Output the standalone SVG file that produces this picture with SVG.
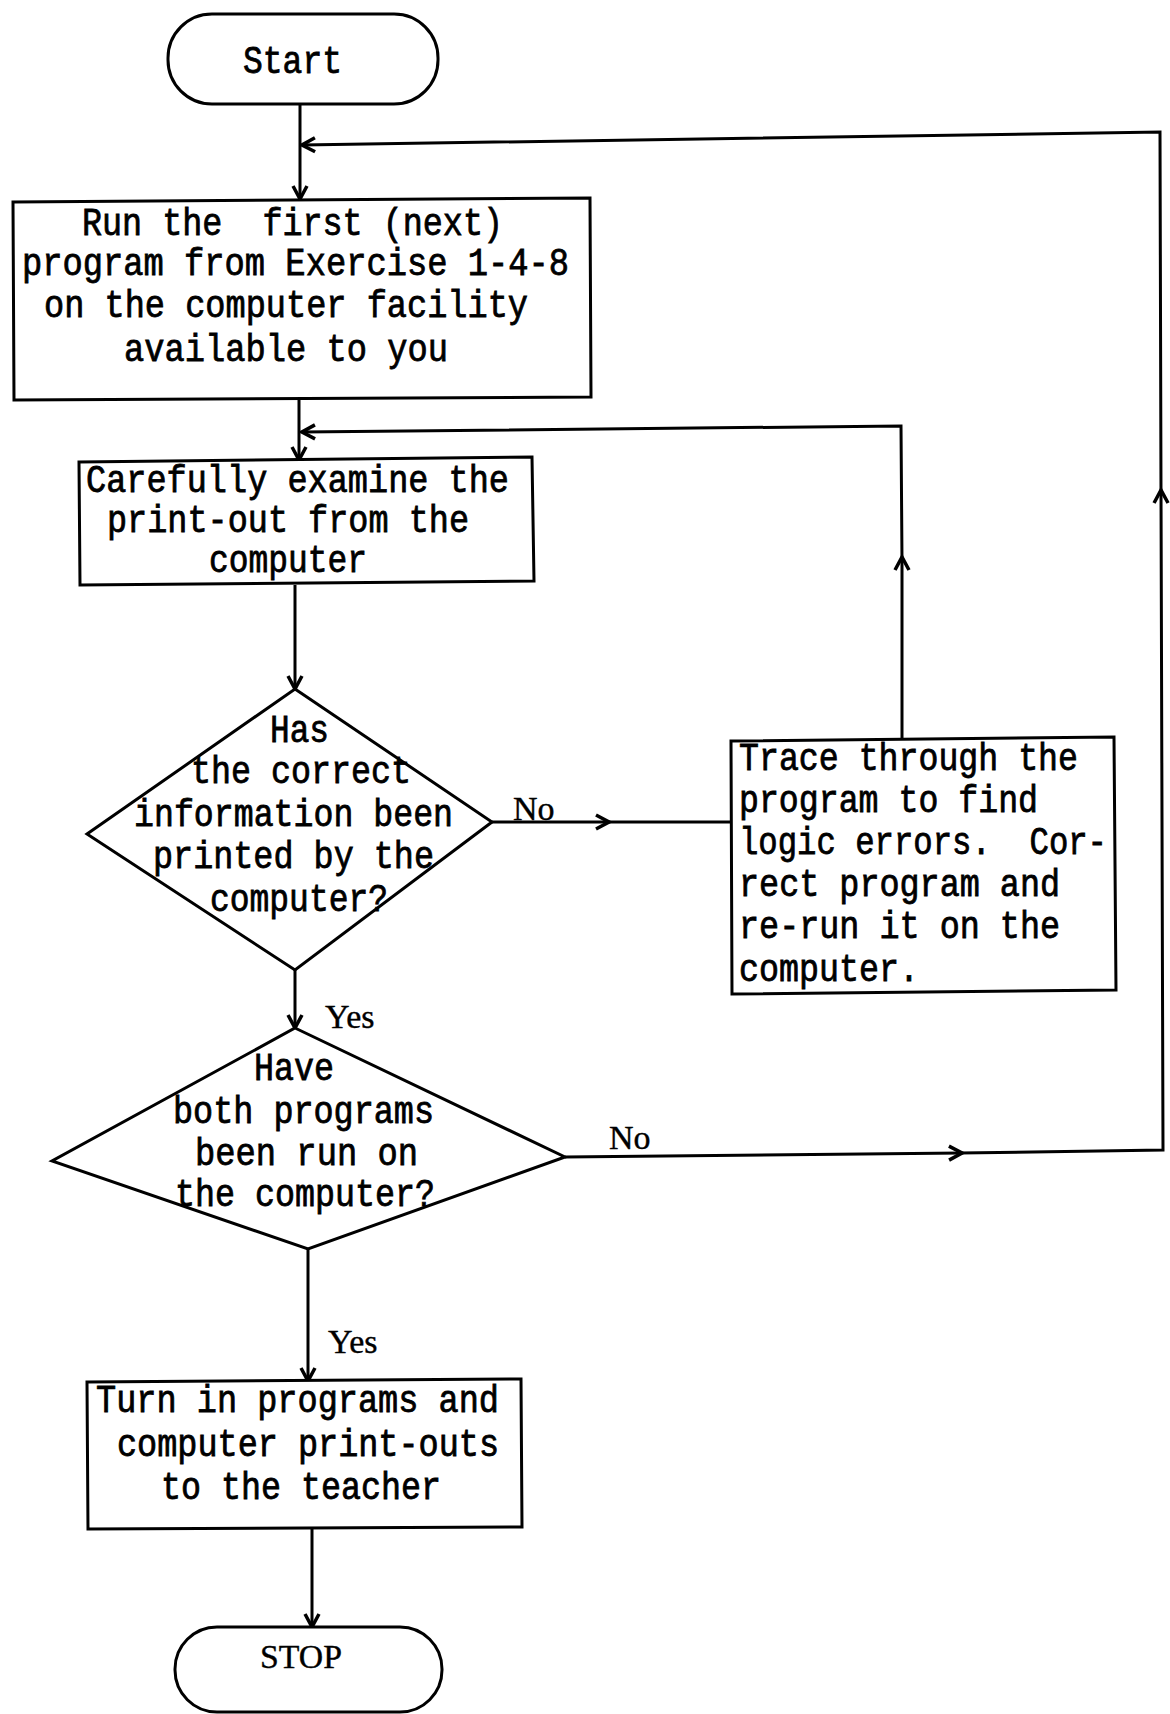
<svg xmlns="http://www.w3.org/2000/svg" width="1170" height="1714" viewBox="0 0 1170 1714">
  <style>
    .shape { fill: #fff; stroke: #000; stroke-width: 3; stroke-linejoin: miter; }
    .wire { fill: none; stroke: #000; stroke-width: 3; }
    .t { font-family: "Liberation Mono", "Courier New", monospace; font-size: 38px; fill: #000; stroke: #000; stroke-width: 0.8; white-space: pre; }
    .lbl { font-family: "Liberation Serif", "Times New Roman", serif; font-size: 34px; fill: #000; stroke: #000; stroke-width: 0.4; }
  </style>
  <defs>
    <marker id="arr" viewBox="-16 -10 18 20" refX="0" refY="0" markerWidth="18" markerHeight="20" markerUnits="userSpaceOnUse" orient="auto">
      <path d="M-13,-7 L0,0 L-13,7" fill="none" stroke="#000" stroke-width="3.5" stroke-linejoin="miter"/>
    </marker>
  </defs>

  <rect width="1170" height="1714" fill="#fff"/>

  <!-- connectors -->
  <g id="connectors">
    <path class="wire" d="M300,104 L300,199" marker-end="url(#arr)"/>
    <path class="wire" d="M299,400 L299,460" marker-end="url(#arr)"/>
    <path class="wire" d="M295,585 L295,689" marker-end="url(#arr)"/>
    <path class="wire" d="M492,822 L609,822" marker-end="url(#arr)"/>
    <path class="wire" d="M607,822 L731,822"/>
    <path class="wire" d="M295,970 L295,1028" marker-end="url(#arr)"/>
    <path class="wire" d="M308,1249 L308,1381" marker-end="url(#arr)"/>
    <path class="wire" d="M312,1528 L312,1627" marker-end="url(#arr)"/>
    <!-- correction loop back to the examine step -->
    <path class="wire" d="M902,740 L902,557" marker-end="url(#arr)"/>
    <path class="wire" d="M902,560 L901,426 L302,432" marker-end="url(#arr)"/>
    <!-- next-program loop back to the run step -->
    <path class="wire" d="M565,1157 L962,1153" marker-end="url(#arr)"/>
    <path class="wire" d="M960,1153 L1163,1150 L1161,490" marker-end="url(#arr)"/>
    <path class="wire" d="M1161,493 L1160,132 L302,145" marker-end="url(#arr)"/>
  </g>

  <g id="start">
    <rect class="shape" x="168" y="14" width="270" height="90" rx="44" ry="44"/>
    <text class="t" x="243" y="73" textLength="99" lengthAdjust="spacingAndGlyphs">Start</text>
  </g>

  <g id="run-program">
    <path class="shape" d="M13,202 L590,198 L591,397 L14,400 Z"/>
    <text class="t" x="82" y="235" textLength="421" lengthAdjust="spacingAndGlyphs">Run the  first (next)</text>
    <text class="t" x="22" y="275" textLength="547" lengthAdjust="spacingAndGlyphs">program from Exercise 1-4-8</text>
    <text class="t" x="44" y="317" textLength="484" lengthAdjust="spacingAndGlyphs">on the computer facility</text>
    <text class="t" x="124" y="361" textLength="324" lengthAdjust="spacingAndGlyphs">available to you</text>
  </g>

  <g id="examine">
    <path class="shape" d="M79,462 L532,457 L534,581 L80,585 Z"/>
    <text class="t" x="86" y="492" textLength="423" lengthAdjust="spacingAndGlyphs">Carefully examine the</text>
    <text class="t" x="107" y="532" textLength="362" lengthAdjust="spacingAndGlyphs">print-out from the</text>
    <text class="t" x="209" y="572" textLength="158" lengthAdjust="spacingAndGlyphs">computer</text>
  </g>

  <g id="correct-info">
    <path class="shape" d="M295,689 L492,822 L295,970 L87,834 Z"/>
    <text class="t" x="270" y="742" textLength="59" lengthAdjust="spacingAndGlyphs">Has</text>
    <text class="t" x="191" y="783" textLength="220" lengthAdjust="spacingAndGlyphs">the correct</text>
    <text class="t" x="134" y="826" textLength="319" lengthAdjust="spacingAndGlyphs">information been</text>
    <text class="t" x="153" y="868" textLength="281" lengthAdjust="spacingAndGlyphs">printed by the</text>
    <text class="t" x="210" y="911" textLength="178" lengthAdjust="spacingAndGlyphs">computer?</text>
  </g>

  <g id="trace">
    <path class="shape" d="M731,741 L1114,737 L1116,990 L732,994 Z"/>
    <text class="t" x="739" y="770" textLength="339" lengthAdjust="spacingAndGlyphs">Trace through the</text>
    <text class="t" x="739" y="812" textLength="299" lengthAdjust="spacingAndGlyphs">program to find</text>
    <text class="t" x="739" y="854" textLength="368" lengthAdjust="spacingAndGlyphs">logic errors.  Cor-</text>
    <text class="t" x="739" y="896" textLength="321" lengthAdjust="spacingAndGlyphs">rect program and</text>
    <text class="t" x="739" y="938" textLength="321" lengthAdjust="spacingAndGlyphs">re-run it on the</text>
    <text class="t" x="739" y="981" textLength="180" lengthAdjust="spacingAndGlyphs">computer.</text>
  </g>

  <g id="both-run">
    <path class="shape" d="M295,1028 L565,1157 L308,1249 L52,1161 Z"/>
    <text class="t" x="254" y="1080" textLength="80" lengthAdjust="spacingAndGlyphs">Have</text>
    <text class="t" x="173" y="1123" textLength="261" lengthAdjust="spacingAndGlyphs">both programs</text>
    <text class="t" x="195" y="1165" textLength="223" lengthAdjust="spacingAndGlyphs">been run on</text>
    <text class="t" x="175" y="1206" textLength="260" lengthAdjust="spacingAndGlyphs">the computer?</text>
  </g>

  <g id="turn-in">
    <path class="shape" d="M87,1382 L521,1379 L522,1527 L88,1529 Z"/>
    <text class="t" x="96" y="1412" textLength="403" lengthAdjust="spacingAndGlyphs">Turn in programs and</text>
    <text class="t" x="117" y="1456" textLength="382" lengthAdjust="spacingAndGlyphs">computer print-outs</text>
    <text class="t" x="161" y="1499" textLength="280" lengthAdjust="spacingAndGlyphs">to the teacher</text>
  </g>

  <g id="stop">
    <rect class="shape" x="175" y="1627" width="267" height="85" rx="42" ry="42"/>
    <text class="lbl" x="260" y="1668" textLength="82" lengthAdjust="spacingAndGlyphs">STOP</text>
  </g>

  <!-- branch labels -->
  <g id="labels">
    <text class="lbl" x="513" y="820" font-size="32">No</text>
    <text class="lbl" x="325" y="1028" font-size="36">Yes</text>
    <text class="lbl" x="609" y="1149">No</text>
    <text class="lbl" x="328" y="1353" font-size="36">Yes</text>
  </g>
</svg>
